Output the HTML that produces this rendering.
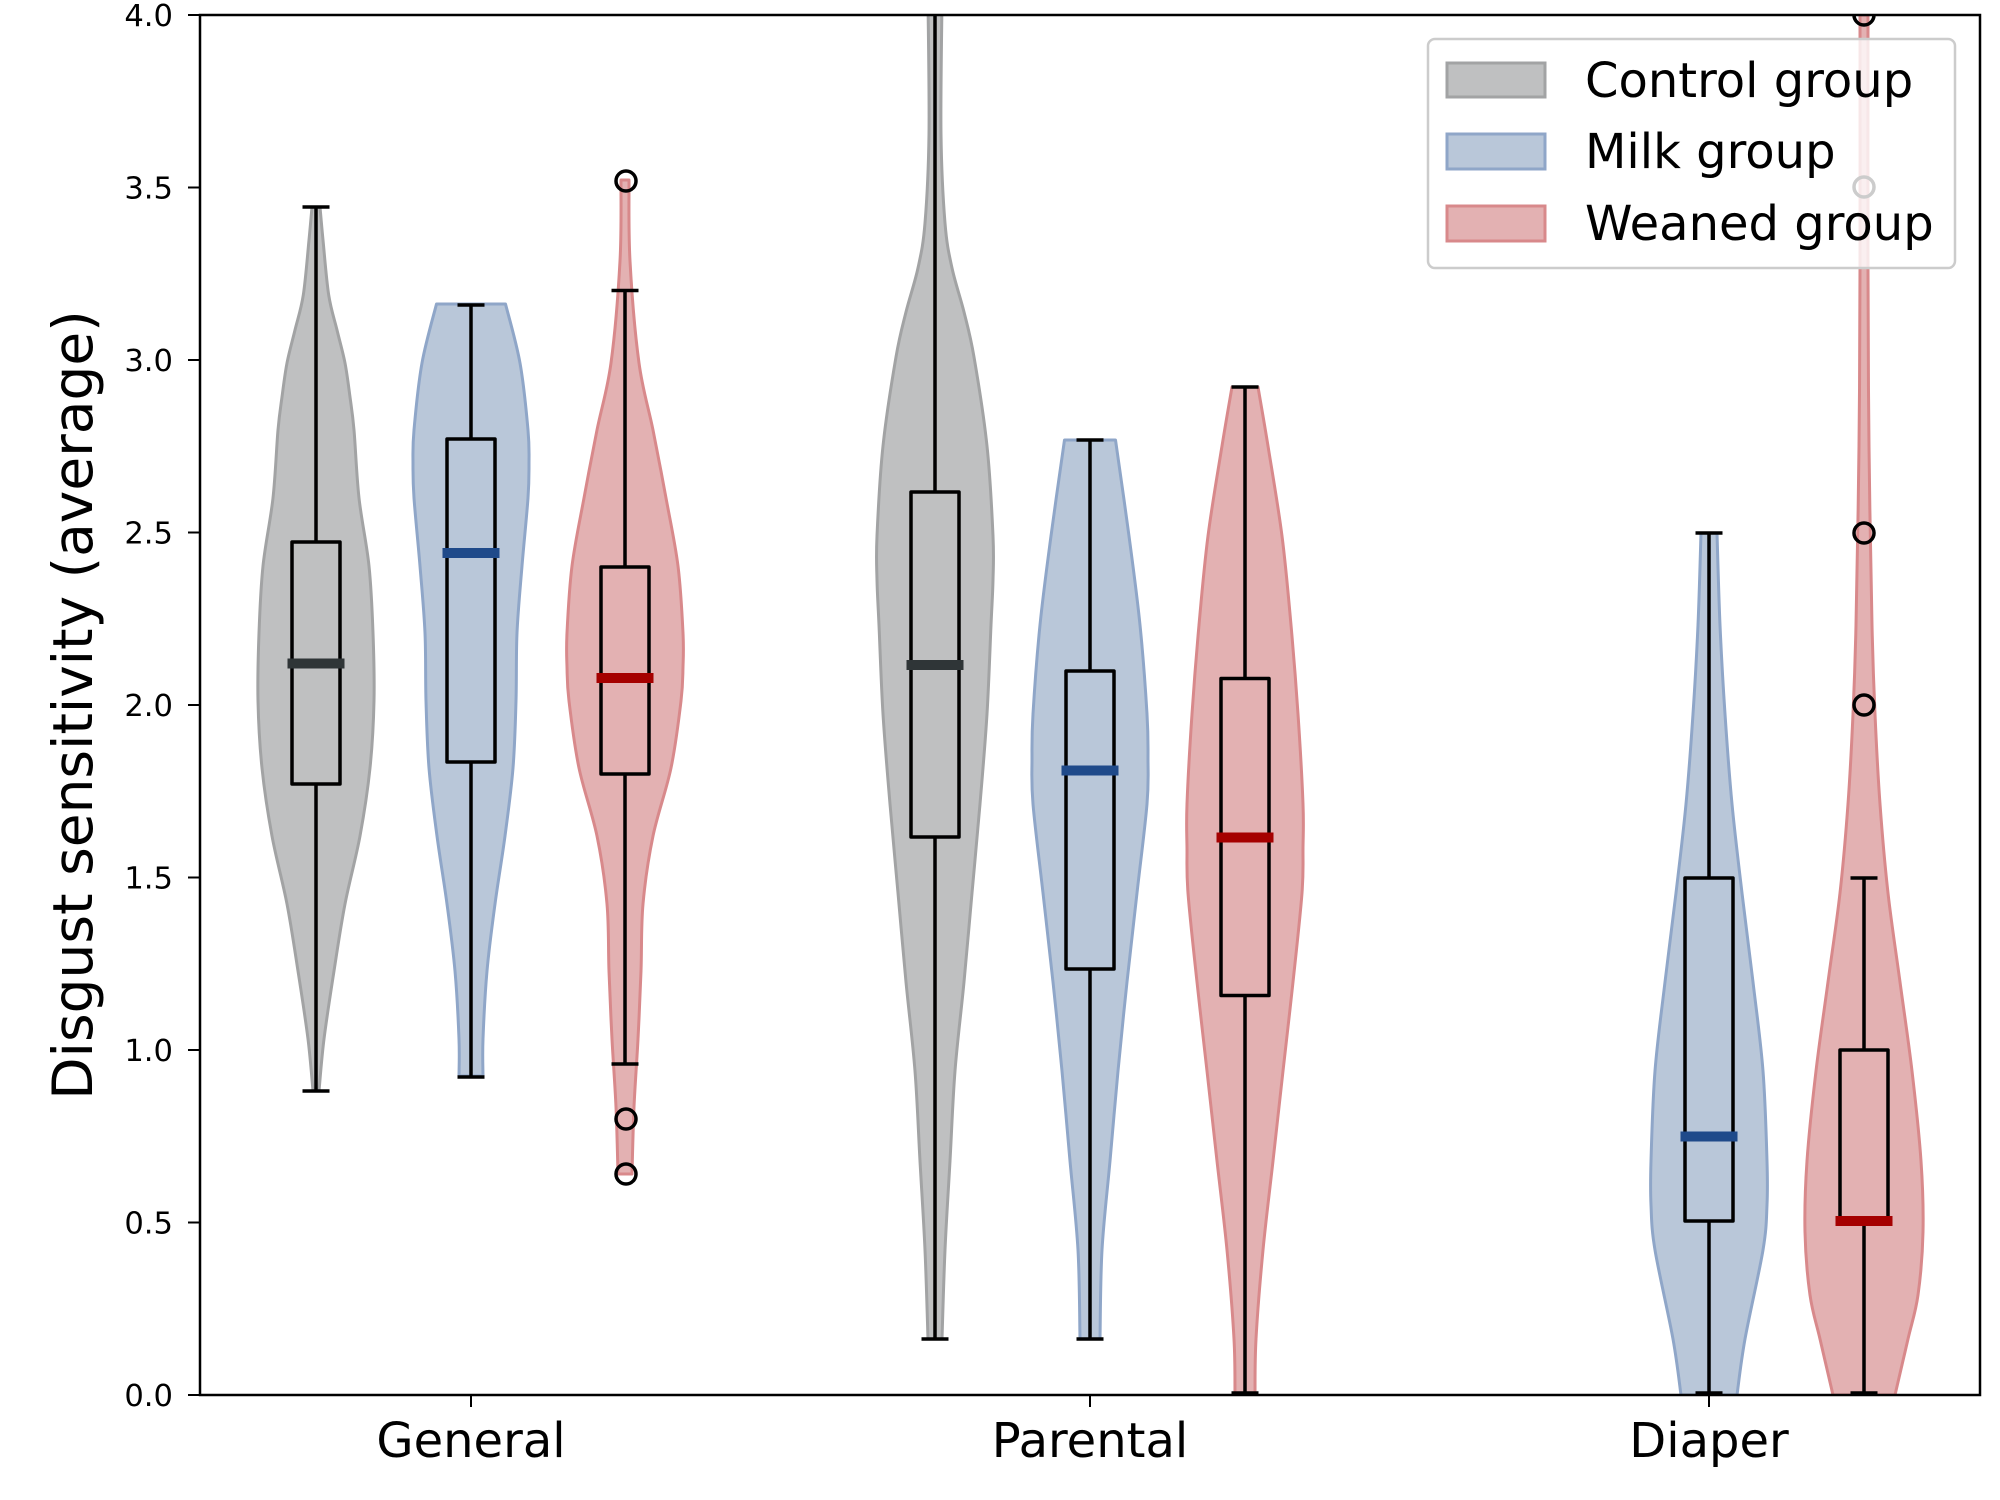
<!DOCTYPE html>
<html>
<head>
<meta charset="utf-8">
<style>
  html, body { margin:0; padding:0; background:#ffffff; }
  svg { display:block; }
  text { font-family: "DejaVu Sans", "Liberation Sans", sans-serif; fill:#000; }
</style>
</head>
<body>
<svg id="chart" width="2000" height="1500" viewBox="0 0 2000 1500" xmlns="http://www.w3.org/2000/svg">
  <defs>
    <clipPath id="plot"><rect x="200" y="15" width="1780" height="1380"/></clipPath>
  </defs>
  <rect x="0" y="0" width="2000" height="1500" fill="#ffffff"/>

  <g clip-path="url(#plot)" stroke-linejoin="round">
    <!-- Violins -->
    <polygon class="v" fill="#bfc0c1" stroke="#a2a3a4" stroke-width="3"
      points="320,207 323,240 328.7,295 337,330 345,363 350,397 354,430 359,498 369,566 373,633 374,701 370,768 360,836 345,904 334,971 324,1039 319,1091 313,1091 308,1039 298,971 287,904 272,836 262,768 258,701 259,633 263,566 273,498 278,430 282,397 287,363 295,330 303.3,295 309,240 312,207"/>
    <polygon class="v" fill="#b9c7d9" stroke="#8fa6c8" stroke-width="3"
      points="505.5,304 520,363 528,430 529,464 528,498 522,566 517,633 516,701 513,768 505,836 495,904 487,971 483,1039 483,1076 459,1076 459,1039 455,971 447,904 437,836 429,768 426,701 425,633 420,566 414,498 413,464 414,430 422,363 436.5,304"/>
    <polygon class="v" fill="#e3b1b2" stroke="#d8898b" stroke-width="3"
      points="629,180 630,261 639,363 653,430 666,498 678,566 683,633 683,667 681,701 671,768 653,836 643,904 641,971 638,1039 634,1107 632,1174 618,1174 616,1107 612,1039 609,971 607,904 597,836 579,768 569,701 567,667 567,633 572,566 584,498 597,430 611,363 620,261 621,180"/>
    <polygon class="v" fill="#bfc0c1" stroke="#a2a3a4" stroke-width="3"
      points="942,0 941,134 945,223 952,268 964,312 974,357 987,446 993,536 993,580 991,625 987,714 980,804 972,893 964,982 955,1071 950,1161 945,1250 942,1339 928,1339 925,1250 920,1161 915,1071 906,982 898,893 890,804 883,714 879,625 877,580 877,536 883,446 896,357 906,312 918,268 925,223 929,134 928,0"/>
    <polygon class="v" fill="#b9c7d9" stroke="#8fa6c8" stroke-width="3"
      points="1115.5,440 1129,536 1140,625 1147,714 1148,759 1147,804 1137,893 1127,982 1118,1071 1110,1161 1102,1250 1100,1339 1080,1339 1078,1250 1070,1161 1062,1071 1053,982 1043,893 1033,804 1032,759 1033,714 1040,625 1051,536 1064.5,440"/>
    <polygon class="v" fill="#e3b1b2" stroke="#d8898b" stroke-width="3"
      points="1258,387 1268,446 1282,536 1291,625 1298,714 1303,804 1303,848 1302,893 1293,982 1283,1071 1273,1161 1263,1250 1256,1339 1255,1395 1235,1395 1234,1339 1227,1250 1217,1161 1207,1071 1197,982 1188,893 1187,848 1187,804 1192,714 1199,625 1208,536 1222,446 1232,387"/>
    <polygon class="v" fill="#b9c7d9" stroke="#8fa6c8" stroke-width="3"
      points="1717,533 1720,625 1725,714 1732,804 1742,893 1753,982 1763,1071 1767,1161 1767,1205 1763,1250 1745,1339 1737,1395 1681,1395 1673,1339 1655,1250 1651,1205 1651,1161 1655,1071 1665,982 1676,893 1686,804 1693,714 1698,625 1701,533"/>
    <polygon class="v" fill="#e3b1b2" stroke="#d8898b" stroke-width="3"
      points="1868,15 1868,268 1869,446 1872,625 1875,714 1880,804 1888,893 1900,982 1912,1071 1921,1161 1923,1232 1918,1295 1908,1339 1895,1395 1833,1395 1820,1339 1810,1295 1805,1232 1807,1161 1816,1071 1828,982 1840,893 1848,804 1853,714 1856,625 1859,446 1860,268 1860,15"/>

    <!-- Boxplots -->
    <g stroke="#000" stroke-width="3.5" fill="none">
      <line x1="316" y1="207" x2="316" y2="542"/>
      <line x1="316" y1="784" x2="316" y2="1091"/>
      <line x1="302.5" y1="207" x2="329.5" y2="207"/>
      <line x1="302.5" y1="1091" x2="329.5" y2="1091"/>
      <rect x="292" y="542" width="48" height="242"/>

      <line x1="471" y1="305" x2="471" y2="439"/>
      <line x1="471" y1="762" x2="471" y2="1077"/>
      <line x1="457.5" y1="305" x2="484.5" y2="305"/>
      <line x1="457.5" y1="1077" x2="484.5" y2="1077"/>
      <rect x="447" y="439" width="48" height="323"/>

      <line x1="625" y1="290.5" x2="625" y2="567"/>
      <line x1="625" y1="774" x2="625" y2="1064"/>
      <line x1="611.5" y1="290.5" x2="638.5" y2="290.5"/>
      <line x1="611.5" y1="1064" x2="638.5" y2="1064"/>
      <rect x="601" y="567" width="48" height="207"/>
      <circle cx="626" cy="181" r="10"/>
      <circle cx="626" cy="1119" r="10"/>
      <circle cx="626" cy="1174" r="10"/>

      <line x1="935" y1="0" x2="935" y2="492"/>
      <line x1="935" y1="837" x2="935" y2="1339"/>
      <line x1="921.5" y1="1339" x2="948.5" y2="1339"/>
      <rect x="911" y="492" width="48" height="345"/>

      <line x1="1090" y1="440" x2="1090" y2="671"/>
      <line x1="1090" y1="969" x2="1090" y2="1339"/>
      <line x1="1076.5" y1="440" x2="1103.5" y2="440"/>
      <line x1="1076.5" y1="1339" x2="1103.5" y2="1339"/>
      <rect x="1066" y="671" width="48" height="298"/>

      <line x1="1245" y1="387" x2="1245" y2="678.5"/>
      <line x1="1245" y1="995.5" x2="1245" y2="1395"/>
      <line x1="1231.5" y1="387" x2="1258.5" y2="387"/>
      <line x1="1231.5" y1="1393" x2="1258.5" y2="1393"/>
      <rect x="1221" y="678.5" width="48" height="317"/>

      <line x1="1709" y1="533" x2="1709" y2="878"/>
      <line x1="1709" y1="1221" x2="1709" y2="1395"/>
      <line x1="1695.5" y1="533" x2="1722.5" y2="533"/>
      <line x1="1695.5" y1="1393" x2="1722.5" y2="1393"/>
      <rect x="1685" y="878" width="48" height="343"/>

      <line x1="1864" y1="878" x2="1864" y2="1050"/>
      <line x1="1864" y1="1221" x2="1864" y2="1395"/>
      <line x1="1850.5" y1="878" x2="1877.5" y2="878"/>
      <line x1="1850.5" y1="1393" x2="1877.5" y2="1393"/>
      <rect x="1840" y="1050" width="48" height="171"/>
      <circle cx="1864" cy="15" r="10"/>
      <circle cx="1864" cy="187" r="10"/>
      <circle cx="1864" cy="533" r="10"/>
      <circle cx="1864" cy="705" r="10"/>
    </g>

    <!-- Medians -->
    <g stroke-width="10">
      <line x1="287.5" y1="663.5" x2="344.5" y2="663.5" stroke="#2f3537"/>
      <line x1="442.5" y1="553" x2="499.5" y2="553" stroke="#1f4a8a"/>
      <line x1="596.5" y1="678" x2="653.5" y2="678" stroke="#a50000"/>
      <line x1="906.5" y1="665" x2="963.5" y2="665" stroke="#2f3537"/>
      <line x1="1061.5" y1="770.5" x2="1118.5" y2="770.5" stroke="#1f4a8a"/>
      <line x1="1216.5" y1="837.5" x2="1273.5" y2="837.5" stroke="#a50000"/>
      <line x1="1680.5" y1="1136.5" x2="1737.5" y2="1136.5" stroke="#1f4a8a"/>
      <line x1="1835.5" y1="1221" x2="1892.5" y2="1221" stroke="#a50000"/>
    </g>
  </g>

  <!-- Axes frame -->
  <rect x="200" y="15" width="1780" height="1380" fill="none" stroke="#000" stroke-width="2.5"/>

  <g stroke="#000" stroke-width="2">
    <line x1="188" y1="15" x2="200" y2="15"/>
    <line x1="188" y1="187.5" x2="200" y2="187.5"/>
    <line x1="188" y1="360" x2="200" y2="360"/>
    <line x1="188" y1="532.5" x2="200" y2="532.5"/>
    <line x1="188" y1="705" x2="200" y2="705"/>
    <line x1="188" y1="877.5" x2="200" y2="877.5"/>
    <line x1="188" y1="1050" x2="200" y2="1050"/>
    <line x1="188" y1="1222.5" x2="200" y2="1222.5"/>
    <line x1="188" y1="1395" x2="200" y2="1395"/>
    <line x1="471" y1="1395" x2="471" y2="1407"/>
    <line x1="1090" y1="1395" x2="1090" y2="1407"/>
    <line x1="1709" y1="1395" x2="1709" y2="1407"/>
  </g>

  <g font-size="30.6" text-anchor="end">
    <text x="173" y="26">4.0</text>
    <text x="173" y="198.5">3.5</text>
    <text x="173" y="371">3.0</text>
    <text x="173" y="543.5">2.5</text>
    <text x="173" y="716">2.0</text>
    <text x="173" y="888.5">1.5</text>
    <text x="173" y="1061">1.0</text>
    <text x="173" y="1233.5">0.5</text>
    <text x="173" y="1406">0.0</text>
  </g>

  <g font-size="48" text-anchor="middle">
    <text x="471" y="1457">General</text>
    <text x="1090" y="1457">Parental</text>
    <text x="1709" y="1457">Diaper</text>
  </g>

  <text transform="translate(92,705) rotate(-90)" font-size="55" text-anchor="middle">Disgust sensitivity (average)</text>

  <!-- Legend -->
  <rect x="1428" y="39" width="527" height="229" rx="7" ry="7" fill="#ffffff" fill-opacity="0.8" stroke="#cccccc" stroke-width="2.5"/>
  <rect x="1447" y="63" width="98" height="34" fill="#bfc0c1" stroke="#a2a3a4" stroke-width="3"/>
  <rect x="1447" y="134" width="98" height="35" fill="#b9c7d9" stroke="#8fa6c8" stroke-width="3"/>
  <rect x="1447" y="206" width="98" height="35" fill="#e3b1b2" stroke="#d8898b" stroke-width="3"/>
  <g font-size="48">
    <text x="1585" y="97">Control group</text>
    <text x="1585" y="168">Milk group</text>
    <text x="1585" y="240">Weaned group</text>
  </g>
</svg>
<script>
(function(){
  var NS = "http://www.w3.org/2000/svg";
  function cr(pts){
    var d = "";
    for (var i = 0; i < pts.length - 1; i++) {
      var p0 = pts[i-1] || pts[i], p1 = pts[i], p2 = pts[i+1], p3 = pts[i+2] || pts[i+1];
      var c1x = p1[0] + (p2[0]-p0[0])/6, c1y = p1[1] + (p2[1]-p0[1])/6;
      var c2x = p2[0] - (p3[0]-p1[0])/6, c2y = p2[1] - (p3[1]-p1[1])/6;
      d += " C" + c1x.toFixed(2) + "," + c1y.toFixed(2) + " " + c2x.toFixed(2) + "," + c2y.toFixed(2) + " " + p2[0] + "," + p2[1];
    }
    return d;
  }
  var polys = document.querySelectorAll("polygon.v");
  for (var k = 0; k < polys.length; k++) {
    var pg = polys[k];
    var raw = pg.getAttribute("points").trim().split(/\s+/).map(function(s){ var a = s.split(","); return [parseFloat(a[0]), parseFloat(a[1])]; });
    var h = raw.length / 2;
    var right = raw.slice(0, h), left = raw.slice(h);
    var d = "M" + right[0][0] + "," + right[0][1] + cr(right) + " L" + left[0][0] + "," + left[0][1] + cr(left) + " Z";
    var p = document.createElementNS(NS, "path");
    p.setAttribute("d", d);
    p.setAttribute("fill", pg.getAttribute("fill"));
    p.setAttribute("stroke", pg.getAttribute("stroke"));
    p.setAttribute("stroke-width", pg.getAttribute("stroke-width"));
    p.setAttribute("stroke-linejoin", "round");
    pg.parentNode.replaceChild(p, pg);
  }
})();
</script>
</body>
</html>
